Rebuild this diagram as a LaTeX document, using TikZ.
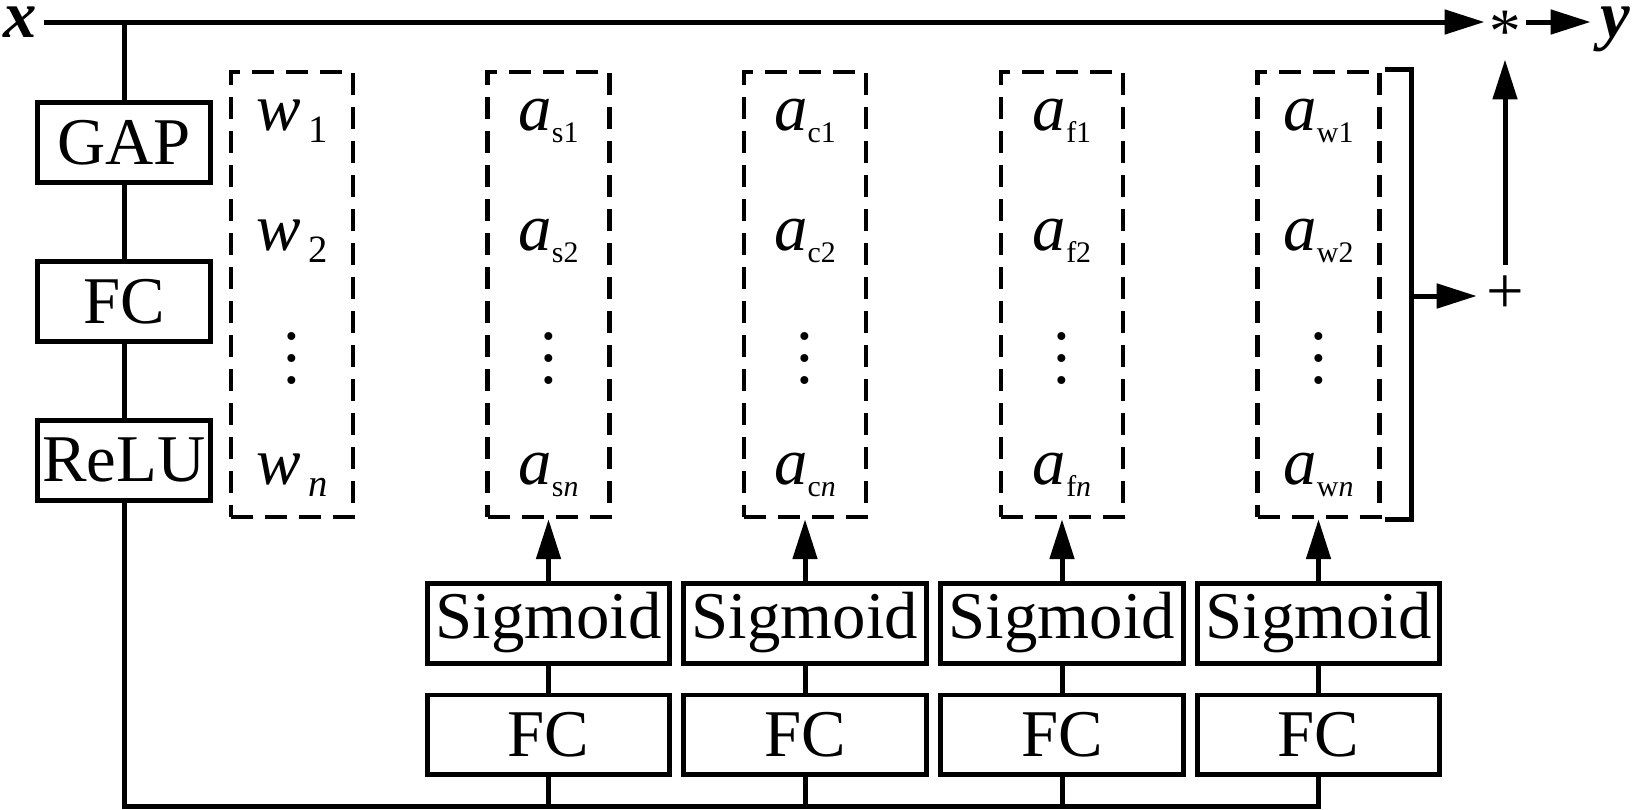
\documentclass[tikz,border=0pt]{standalone}
\usepackage{fontspec}
\setmainfont{Liberation Serif}
\usetikzlibrary{arrows.meta, positioning}
\tikzstyle{box}=[draw, line width=0.1cm, inner sep=0pt, minimum height=1.6cm]
\tikzstyle{lbox}=[box, minimum width=3.46cm]
\tikzstyle{sbox}=[box, minimum width=4.86cm]
\tikzstyle{grp}=[draw, line width=0.09cm, dash pattern=on 0.44cm off 0.24cm, minimum width=2.44cm, minimum height=8.9cm]
\tikzstyle{ent}=[anchor=base, inner sep=0pt]
\newcommand{\asub}[1]{\textit{a}\raisebox{-0.19em}{\fontsize{17}{17}\selectfont #1}}
\newcommand{\wsub}[1]{\textit{w}\kern0.12em\raisebox{-0.19em}{\fontsize{22}{22}\selectfont #1}}
\newcommand{\vdts}{\vbox{\baselineskip=0.44cm \hbox{.}\hbox{.}\hbox{.}}}

\begin{document}
\begin{tikzpicture}[x=0.02cm, y=-0.02cm, >={Triangle[length=0.8cm, width=0.48cm]}, line width=0.1cm, font=\fontsize{38}{40}\selectfont]
\useasboundingbox (0,0) rectangle (1636,809);
% input, product, sum and output
\node[inner xsep=0.08cm, text height=0.62cm, text depth=0pt] (xin) at (20.5,22) {\textbf{\textit{x}}};
\node[inner sep=0pt, minimum width=0.72cm, minimum height=1.4cm, text height=1.24cm, text depth=0pt, font=\fontsize{36}{36}\selectfont] (mul) at (1505,22) {*};
\node[inner xsep=0.14cm, text height=0.62cm, text depth=0pt] (yout) at (1615,22) {\textbf{\textit{y}}};
\node[inner xsep=0.14cm, inner ysep=0.24cm, text height=0.68cm, text depth=0pt] (add) at (1505,296) {+};
% squeeze branch
\node[lbox] (gap) at (124,142.5) {GAP};
\node[lbox, below=1.48cm of gap] (fcl) {FC};
\node[lbox, below=1.48cm of fcl] (relu) {ReLU};
\coordinate (bot) at (124,806);
% weights
\node[grp] (wts) at (292,294.5) {};
\node[ent] (w1) at (292,130) {\wsub{1}};
\node[ent] (w2) at (292,250) {\wsub{2}};
\node (wd) at (292,358) {\vdts};
\node[ent] (wn) at (292,484) {\wsub{\textit{n}}};
% attention columns
\foreach \t/\cx in {s/548.5, c/805, f/1062, w/1318.5}{
  \node[grp] (a\t) at (\cx,294.5) {};
  \node[ent] (a\t1) at (\cx,130) {\asub{\t1}};
  \node[ent] (a\t2) at (\cx,250) {\asub{\t2}};
  \node (a\t d) at (\cx,358) {\vdts};
  \node[ent] (a\t n) at (\cx,484) {\asub{\t\textit{n}}};
  \node[sbox] (sig\t) at (\cx,623) {Sigmoid};
  \node[sbox, below=0.54cm of sig\t] (fc\t) {FC};
  \draw[->] (sig\t) -- (a\t);
  \draw (sig\t) -- (fc\t);
}
\draw[->] (xin) -- (mul);
\draw[->] (mul) -- (yout);
\draw (xin -| gap) -- (gap);
\draw (gap) -- (fcl);
\draw (fcl) -- (relu);
\draw (relu) -- (bot) -| (fcw);
\foreach \t in {s,c,f} \draw (fc\t) -- (fc\t |- bot);
\draw ([xshift=0.06cm]aw.north east) -- ++(0.54cm,0) coordinate (brt) |- ([xshift=0.06cm]aw.south east);
\coordinate (brk) at (brt |- add);
\draw[->] (brk) -- (add);
\draw[->] (add) -- (mul);
\end{tikzpicture}
\end{document}
